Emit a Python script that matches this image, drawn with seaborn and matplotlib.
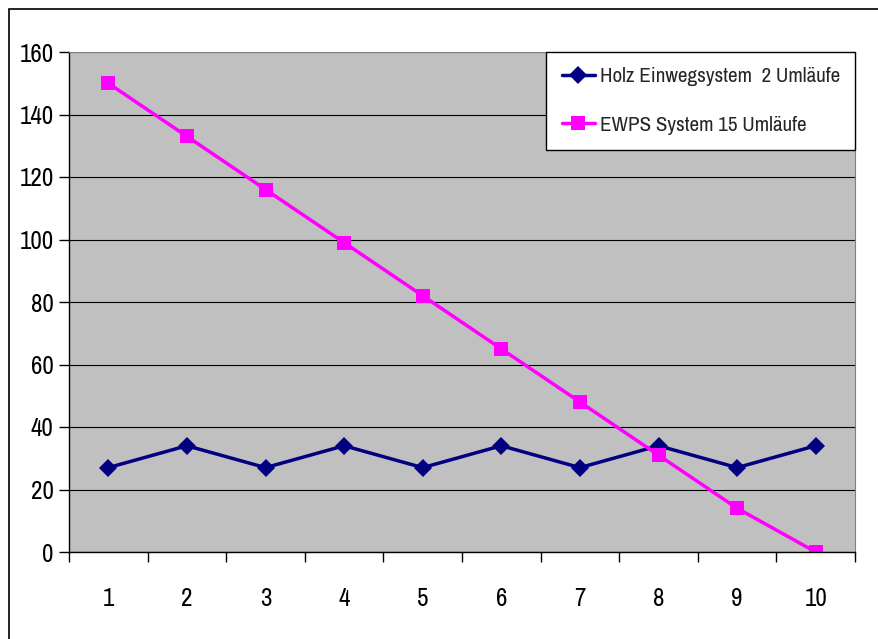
import matplotlib
matplotlib.use("Agg")
import matplotlib.pyplot as plt
import seaborn as sns
import pandas as pd
from matplotlib.patches import Rectangle
from matplotlib.ticker import MultipleLocator

periods = [1, 2, 3, 4, 5, 6, 7, 8, 9, 10]
holz = [27, 34, 27, 34, 27, 34, 27, 34, 27, 34]
ewps = [150, 133, 116, 99, 82, 65, 48, 31, 14, 0]
series_names = ["Holz Einwegsystem  2 Umläufe", "EWPS System 15 Umläufe"]

df = pd.DataFrame({
    "x": periods + periods,
    "y": holz + ewps,
    "s": [series_names[0]] * len(periods) + [series_names[1]] * len(periods),
})

sns.set_theme(style="white")
plt.rcParams['font.family'] = ['Archivo Narrow', 'Liberation Sans', 'DejaVu Sans']

fig = plt.figure(figsize=(8.79, 6.39), dpi=100)
W, H = 879, 639
ax = fig.add_axes([69 / W, 1 - 552 / H, (855 - 69) / W, (552 - 52) / H])
ax.set_facecolor("#C0C0C0")

sns.lineplot(data=df, x="x", y="y", hue="s", style="s",
             palette=["#000080", "#FF00FF"], markers=["D", "s"], dashes=False,
             linewidth=2.5, markersize=9.5, markeredgewidth=0, ax=ax)

ax.set_xlim(0.5, 10.5)
ax.set_ylim(0, 160)
ax.yaxis.set_major_locator(MultipleLocator(20))
ax.set_xticks(periods)
ax.set_xticks([p + 0.5 for p in [0] + periods], minor=True)
ax.tick_params(axis="x", which="major", length=0, pad=25, labelsize=18, colors="black")
ax.tick_params(axis="x", which="minor", length=7, width=1, color="black", direction="out", bottom=True)
ax.tick_params(axis="y", which="major", length=7, width=1, color="black", direction="out", left=True, pad=4, labelsize=18, colors="black")
ax.grid(axis="y", color="black", linewidth=0.8)
ax.set_axisbelow(True)
ax.set_xlabel("")
ax.set_ylabel("")
for side in ["top", "right"]:
    ax.spines[side].set_color("#808080")
    ax.spines[side].set_linewidth(0.8)
for side in ["left", "bottom"]:
    ax.spines[side].set_color("black")
    ax.spines[side].set_linewidth(1)

leg = ax.legend(loc="upper right", bbox_to_anchor=(1.0, 1.0), frameon=True, fancybox=False,
                fontsize=15.2, borderaxespad=0, handlelength=1.6, handletextpad=0.2,
                labelspacing=1.4, borderpad=0.72)
leg.get_frame().set_edgecolor("black")
leg.get_frame().set_facecolor("white")
leg.get_frame().set_linewidth(1)
leg.get_frame().set_alpha(1)

fig.patches.append(Rectangle((9 / W, -0.05), 1.1, 1 - 9 / H + 0.05, transform=fig.transFigure,
                             fill=False, edgecolor="black", linewidth=1.2, zorder=0))

fig.savefig("out.png", dpi=100)
